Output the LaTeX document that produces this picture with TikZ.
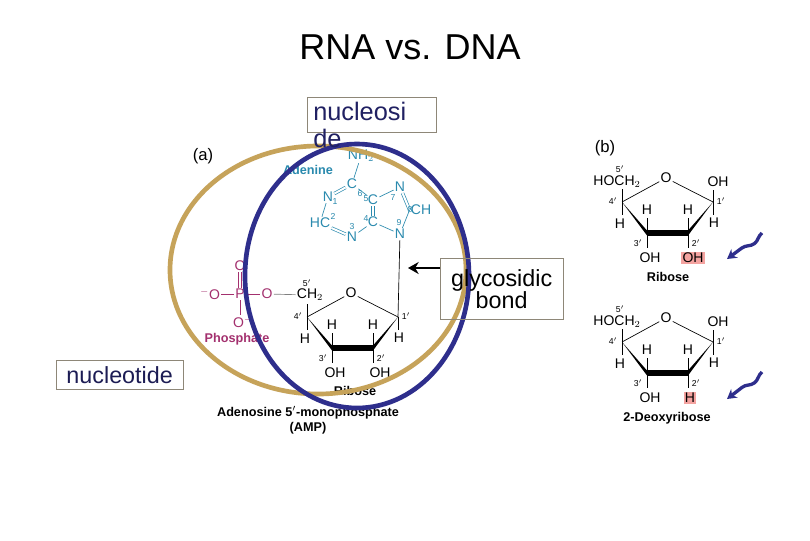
\documentclass[tikz,border=0pt]{standalone}
\usepackage{fontspec}
\setmainfont{Liberation Sans}
\usetikzlibrary{arrows.meta,decorations.pathmorphing}
\definecolor{tan}{HTML}{C6A35A}
\definecolor{navy}{HTML}{2E2E8C}
\definecolor{teal}{HTML}{2A8AAE}
\definecolor{mag}{HTML}{A3306E}
\definecolor{hlc}{HTML}{F4A3A0}
\tikzset{
 ch/.style={font=\fontsize{10.5}{12}\selectfont, inner sep=0.8pt},
 sm/.style={font=\fontsize{6.5}{7}\selectfont, inner sep=0pt},
 bl/.style={ch, font=\bfseries\fontsize{9.5}{11}\selectfont},
 bond/.style={line width=0.5pt},
 lab/.style={draw=gray!80!tan, line width=0.5pt, font=\fontsize{17.5}{19}\selectfont, inner sep=2pt},
 hl/.style={ch, fill=hlc},
 ad/.style={ch, text=teal},
 ph/.style={ch, text=mag},
 wave/.style={navy, line width=2.5pt, -{Stealth[length=7pt,width=8pt]}, decorate, decoration={snake, amplitude=3pt, segment length=30pt, post length=6pt}}
}
\newcommand{\myRing}[6]{%
\begin{scope}[shift={#2}]
 \node[ch] (#1O) at (44,-24) {O};
 \coordinate (#1c4) at (0,0); \coordinate (#1c1) at (91,0);
 \draw[bond] (#1c4) -- (#1O); \draw[bond] (#1O) -- (#1c1);
 \fill (0,0) -- (25,28.5) -- (25,33.5) -- cycle;
 \draw[line width=3.8pt] (25,31) -- (66,31);
 \fill (91,0) -- (66,28.5) -- (66,33.5) -- cycle;
 \draw[bond] (0,-13) -- (0,13); \node[ch] (#1h4) at (-2,22) {H}; \node[sm] (#1n4) at (-9,-1) {4$'$};
 \draw[bond] (25,16) -- (25,46); \node[ch] (#1h3) at (25,8) {H}; \node[ch] (#1oh3) at (28,56) {OH}; \node[sm] (#1n3) at (16,41) {3$'$};
 \draw[bond] (66,16) -- (66,46); \node[ch] (#1h2) at (66,8) {H}; \node[#4] (#1s2) at (#5,56) {#3}; \node[sm] (#1n2) at (74,41) {2$'$};
 \draw[bond] (91,-#6) -- (91,13); \node[ch] (#1h1) at (92,21) {H}; \node[sm] (#1n1) at (99,-1) {1$'$};
\end{scope}}
\begin{document}
\begin{tikzpicture}[x=0.75pt,y=-0.75pt]
\useasboundingbox (0,0) rectangle (810,540);
\fill[white] (0,0) rectangle (810,540);
\node[font=\fontsize{27}{30}\selectfont] (title) at (410,47) {RNA vs. DNA};
% panel a
\node[font=\fontsize{12.5}{14}\selectfont] (pa) at (203,156) {(a)};
\node[bl, text=teal] (adl) at (308,170) {Adenine};
\node[ad] (nh2) at (361,156) {NH$_2$};
\node[ad] (c6) at (352,184) {C};
\node[ad] (n1) at (328,197) {N};
\node[ad] (c5) at (373,200) {C};
\node[ad] (n7) at (400,187) {N};
\node[ad] (c8) at (421,210) {CH};
\node[ad] (n9) at (400,234) {N};
\node[ad] (c4) at (373,222) {C};
\node[ad] (n3) at (352,237) {N};
\node[ad] (c2) at (320,223) {HC};
\begin{scope}[teal, bond]
\draw (nh2) -- (c6);
\draw[double, double distance=1.5pt] (c6) -- (n1);
\draw (c6) -- (c5);
\draw (c5) -- (n7);
\draw[double, double distance=1.5pt] (n7) -- (c8.west);
\draw (c8.west) -- (n9);
\draw (n9) -- (c4);
\draw[double, double distance=1.5pt] (c5) -- (c4);
\draw (c4) -- (n3);
\draw[double, double distance=1.5pt] (n3) -- (c2);
\draw (c2) -- (n1);
\end{scope}
\begin{scope}[teal]
\node[sm] (a1) at (335,202) {1};
\node[sm] (a6) at (360,194) {6};
\node[sm] (a5) at (366,199) {5};
\node[sm] (a7) at (393,198) {7};
\node[sm] (a8) at (410,210) {8};
\node[sm] (a9) at (399,223) {9};
\node[sm] (a4) at (366,219) {4};
\node[sm] (a3) at (352,227) {3};
\node[sm] (a2) at (333,216) {2};
\end{scope}
\myRing{ra}{(307,317)}{OH}{ch}{73}{0}
\node[ch, fill=white] (ch2) at (310,295) {CH$_2$};
\node[sm] (n5a) at (307,283) {5$'$};
\draw[bond] (n9) -- (rac1);
\node[ph] (po1) at (240,266) {O};
\node[ph] (pp) at (240,294) {P};
\node[ph] (po2) at (210,294) {$^{-}$O};
\node[ph] (po3) at (267,294) {O};
\node[ph] (po4) at (243,322) {O$^{-}$};
\begin{scope}[mag, bond]
\draw[double, double distance=1.5pt] (pp) -- (po1);
\draw (pp) -- (po2); \draw (pp) -- (po3); \draw (pp) -- (pp |- po4.north);
\end{scope}
\draw[gray, bond] (po3) -- (ch2);
\node[bl, text=mag] (phl) at (237,339) {Phosphate};
\node[bl] (ribl) at (355,391) {Ribose};
\node[bl, align=center] (ampl) at (308,420) {Adenosine 5$'$-monophosphate\\(AMP)};
% ellipses
\draw[tan, line width=3.5pt] (318,270) ellipse [x radius=148, y radius=124];
\draw[navy, line width=3.5pt] (357,276) ellipse [x radius=112, y radius=132];
% panel b
\node[font=\fontsize{12.5}{14}\selectfont] (pb) at (605,148) {(b)};
\myRing{rb}{(622,202)}{OH}{hl}{71}{12}
\node[ch] (hb1) at (617,182) {HOCH$_2$};
\node[sm] (n5b) at (620,169) {5$'$};
\node[ch] (ohb1) at (718,182) {OH};
\node[bl] (ribb) at (668,277) {Ribose};
\myRing{rc}{(622,342)}{H}{hl}{68}{12}
\node[ch] (hc1) at (617,322) {HOCH$_2$};
\node[sm] (n5c) at (620,309) {5$'$};
\node[ch] (ohc1) at (718,322) {OH};
\node[bl] (deol) at (667,418) {2-Deoxyribose};
\coordinate (w1s) at (762,233); \coordinate (w1e) at (727,259);
\coordinate (w2s) at (762,372); \coordinate (w2e) at (727,399);
\draw[wave] (w1s) -- (w1e);
\draw[wave] (w2s) -- (w2e);
% labels
\node[draw=gray!80!tan, line width=0.5pt, minimum width=97pt, minimum height=26pt, anchor=north west, inner sep=0pt] (nucbox) at (307,97) {};
\node[font=\fontsize{19}{21}\selectfont, text=navy!70!black, align=left, anchor=north west, inner sep=0pt] (nuc) at (313,102) {nucleosi\\[-1pt]de};
\node[lab, text=navy!60!black, minimum width=95pt, minimum height=22pt, anchor=north west] (ntd) at (56,360) {nucleotide};
\node[lab, minimum width=92pt, minimum height=46pt, align=center, anchor=north west] (gly) at (440,258) {glycosidic\\[-2pt]bond};
\coordinate (garr) at (408,268);
\draw[line width=2pt, -{Stealth[length=8pt,width=9pt]}] (gly.west |- garr) -- (garr);
\end{tikzpicture}
\end{document}
